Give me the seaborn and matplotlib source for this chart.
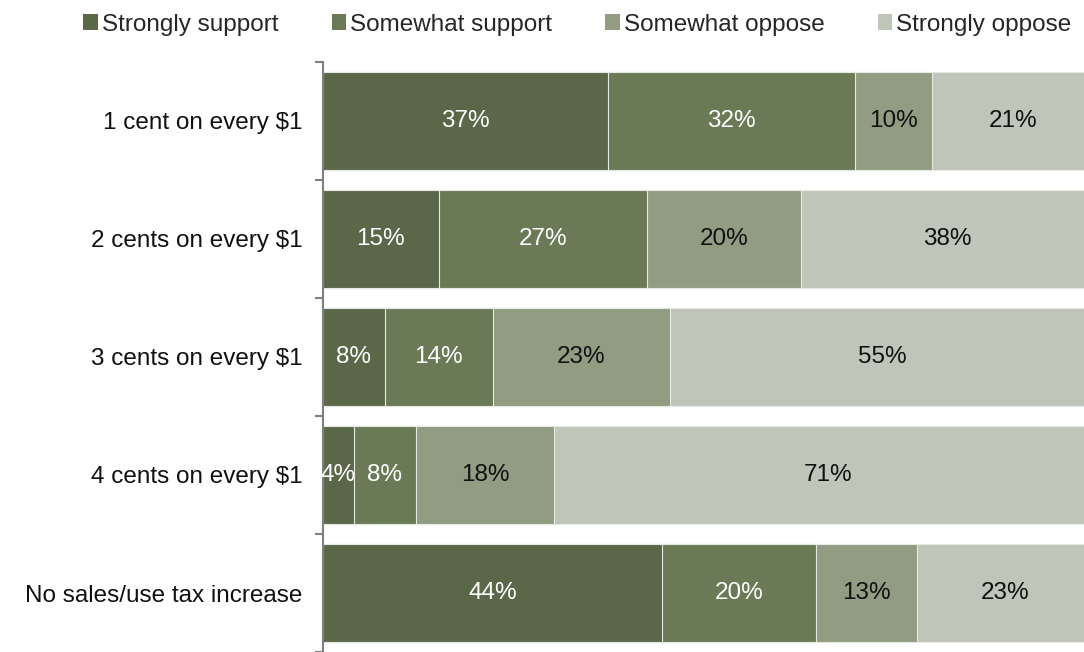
import numpy as np
import pandas as pd
import matplotlib
matplotlib.use("Agg")
import matplotlib.pyplot as plt
from matplotlib.patches import Patch
import seaborn as sns

# Survey responses: support for a sales/use tax increase of each size
categories = ["1 cent on every $1", "2 cents on every $1", "3 cents on every $1",
              "4 cents on every $1", "No sales/use tax increase"]
series_names = ["Strongly support", "Somewhat support", "Somewhat oppose", "Strongly oppose"]
strongly_support = [37, 15, 8, 4, 44]
somewhat_support = [32, 27, 14, 8, 20]
somewhat_oppose = [10, 20, 23, 18, 13]
strongly_oppose = [21, 38, 55, 71, 23]

colors = ["#5a6749", "#6b7a56", "#919c82", "#c0c5b9"]
label_colors = ["white", "white", "#111111", "#111111"]

sns.set_theme(style="white")
plt.rcParams["font.family"] = ["Liberation Sans", "DejaVu Sans"]

values = np.array([strongly_support, somewhat_support, somewhat_oppose, strongly_oppose], dtype=float)
cum = np.cumsum(values, axis=0)

fig = plt.figure(figsize=(10.84, 6.52), dpi=100)
ax = fig.add_axes([323 / 1084, 0.0, 771 / 1084, 1 - 62 / 652])

# Stack by drawing cumulative totals from the widest series down
for i in range(len(series_names) - 1, -1, -1):
    df = pd.DataFrame({"category": categories, "value": cum[i]})
    sns.barplot(data=df, x="value", y="category", orient="h", order=categories,
                color=colors[i], saturation=1, width=0.83,
                edgecolor="#e6e8e2", linewidth=0.8, ax=ax)

# Percentage labels in the middle of each segment
for i in range(len(series_names)):
    for j, cat in enumerate(categories):
        start = cum[i, j] - values[i, j]
        center = start + values[i, j] / 2
        ax.text(center, j, f"{int(values[i, j])}%", ha="center", va="center",
                color=label_colors[i], fontsize=17.5)

ax.set_xlim(0, 100)
ax.set_ylim(len(categories) - 0.5, -0.5)
ax.set_xlabel("")
ax.set_ylabel("")
ax.set_xticks([])
ax.set_yticks(range(len(categories)))
ax.set_yticklabels(categories, fontsize=17.5, color="#111111")
ax.set_yticks(np.arange(-0.5, len(categories) + 0.5, 1.0), minor=True)
ax.tick_params(axis="y", which="major", length=0, pad=15)
ax.tick_params(axis="y", which="minor", length=6, width=1.5, color="#7f7f7f", left=True)
for side in ["top", "right", "bottom"]:
    ax.spines[side].set_visible(False)
ax.spines["left"].set_color("#7f7f7f")
ax.spines["left"].set_linewidth(1.5)

handles = [Patch(facecolor=c, edgecolor="none") for c in colors]
fig.legend(handles, series_names, loc="upper right", bbox_to_anchor=(1.004, 1.005),
           ncol=4, frameon=False, fontsize=17.5, handlelength=0.6, handleheight=0.6,
           handletextpad=0.15, columnspacing=2.2, borderaxespad=0.3)

fig.savefig("out.png", dpi=100)
